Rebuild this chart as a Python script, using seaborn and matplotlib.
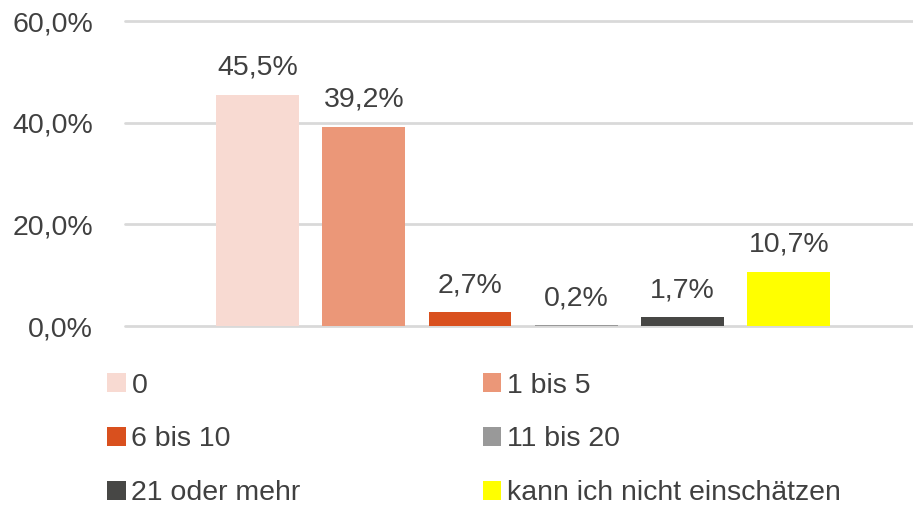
import matplotlib
matplotlib.use("Agg")
import matplotlib.pyplot as plt
import seaborn as sns
import pandas as pd
from matplotlib.ticker import FuncFormatter

categories = ["0", "1 bis 5", "6 bis 10", "11 bis 20", "21 oder mehr", "kann ich nicht einschätzen"]
values = [45.5, 39.2, 2.7, 0.2, 1.7, 10.7]
colors = ["#F8DAD2", "#EB9778", "#D9501E", "#999999", "#474745", "#FFFF00"]
yticks = [0, 20, 40, 60]

sns.set_theme(style="white")
plt.rcParams['font.family'] = ['Liberation Sans', 'DejaVu Sans']

df = pd.DataFrame({"Kategorie": categories, "Anteil": values})
txt = "#404040"
fs = 20.5

fig = plt.figure(figsize=(9.13, 5.09), dpi=100)
ax = fig.add_axes([0.137, 0.3595, 0.863, 0.5992])
sns.barplot(data=df, x="Kategorie", y="Anteil", hue="Kategorie", palette=colors,
            width=0.78, saturation=1, linewidth=0, legend=True, ax=ax)

ax.set_ylim(0, 60)
ax.set_xlim(-1.248, 6.17)
ax.set_yticks(yticks)
ax.yaxis.set_major_formatter(FuncFormatter(lambda v, p: "{:.1f}%".format(v).replace(".", ",")))
ax.tick_params(axis="y", labelsize=fs, colors=txt, length=0, pad=23)
ax.set_xticks([])
ax.set_xlabel("")
ax.set_ylabel("")
for s in ax.spines.values():
    s.set_visible(False)
ax.grid(axis="y", color="#D9D9D9", linewidth=2)
ax.set_axisbelow(True)
for gl in ax.get_ygridlines():
    gl.set_clip_on(False)

for i, v in enumerate(values):
    ax.annotate("{:.1f}%".format(v).replace(".", ","), (i, v), xytext=(0, 10),
                textcoords="offset points", ha="center", va="bottom", fontsize=fs, color=txt)

handles, labels = ax.get_legend_handles_labels()
ax.get_legend().remove()
order = [0, 2, 4, 1, 3, 5]
fig.legend([handles[i] for i in order], [labels[i] for i in order], ncol=2,
           loc="upper left", bbox_to_anchor=(0.105, 0.29), frameon=False,
           fontsize=fs, labelcolor=txt, handlelength=0.65, handleheight=0.65,
           handletextpad=0.2, labelspacing=0.97, columnspacing=6.4, borderaxespad=0)

fig.savefig("out.png", dpi=100)
